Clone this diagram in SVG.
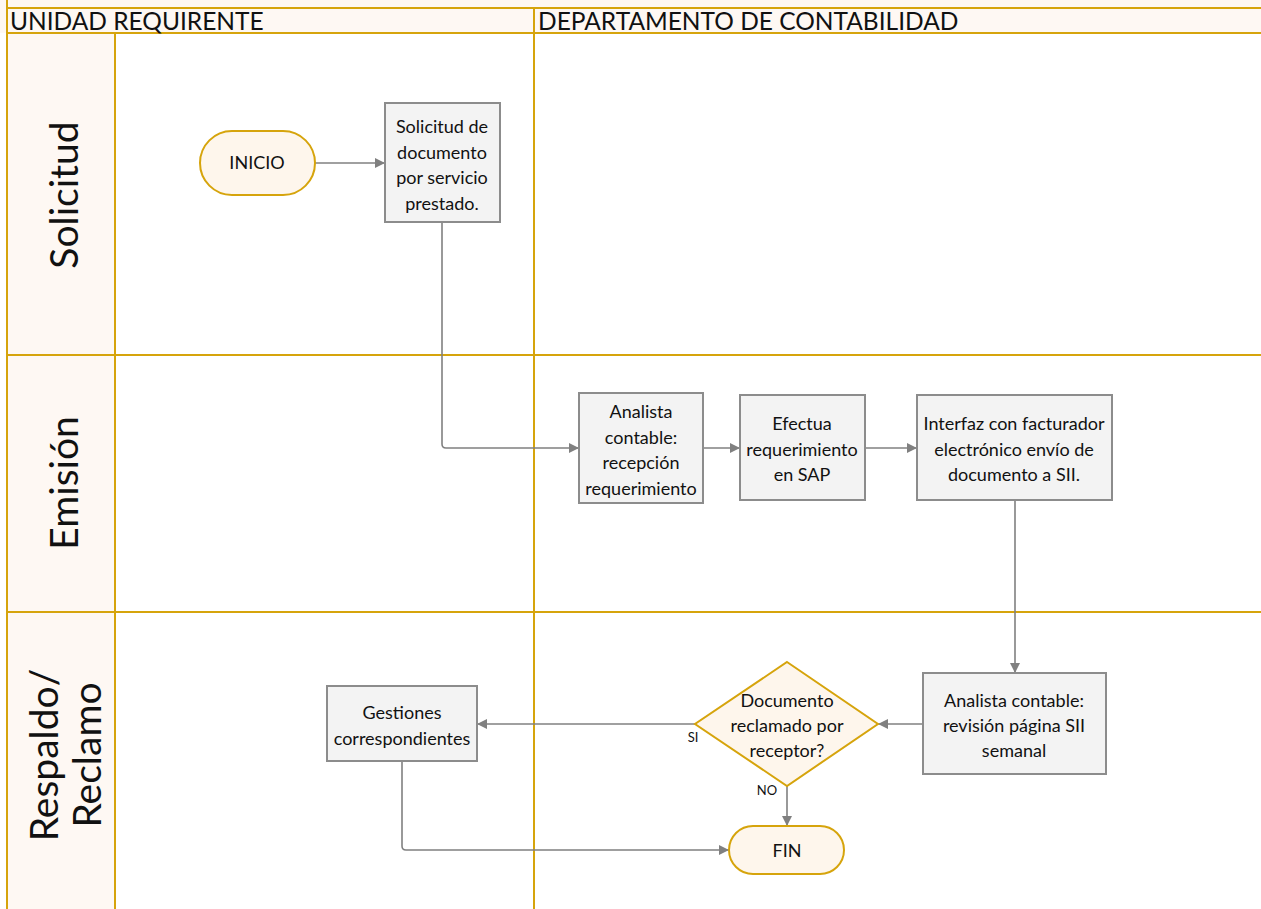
<svg xmlns="http://www.w3.org/2000/svg" width="1261" height="909" viewBox="0 0 1261 909">
  <style>
    text { font-family: Lato, "Open Sans", "Liberation Sans", sans-serif; fill: #111; }
    .grid { stroke: #D6A40C; stroke-width: 2; fill: none; }
    .cell { fill: #FEF8F3; }
    .hdr { font-size: 24.5px; }
    .lane { font-size: 39px; text-anchor: middle; }
    .box { fill: #F3F3F3; stroke: #8C8C8C; stroke-width: 2; }
    .term { fill: #FEF6EC; stroke: #D6A40C; stroke-width: 2; }
    .lbl { font-size: 18px; text-anchor: middle; }
    .small { font-size: 13px; text-anchor: middle; }
    .conn { stroke: #808080; stroke-width: 1.6; fill: none; marker-end: url(#arrow); }
  </style>
  <defs>
    <marker id="arrow" viewBox="0 0 10 10" refX="10" refY="5" markerWidth="10" markerHeight="10" markerUnits="userSpaceOnUse" orient="auto">
      <path d="M0,0 L10,5 L0,10 z" fill="#808080"/>
    </marker>
  </defs>

  <rect width="1261" height="909" fill="#FFFFFF"/>

  <!-- swimlane frame -->
  <g id="lanes">
    <rect class="cell" x="0" y="0" width="1261" height="33"/>
    <rect class="cell" x="7" y="33" width="108" height="876"/>
    <line class="grid" x1="7" y1="0" x2="7" y2="909"/>
    <line class="grid" x1="7" y1="8" x2="1261" y2="8"/>
    <line class="grid" x1="7" y1="33" x2="1261" y2="33"/>
    <line class="grid" x1="115" y1="33" x2="115" y2="909"/>
    <line class="grid" x1="534" y1="8" x2="534" y2="909"/>
    <line class="grid" x1="7" y1="355" x2="1261" y2="355"/>
    <line class="grid" x1="7" y1="612" x2="1261" y2="612"/>
    <text class="hdr" x="10" y="30">UNIDAD REQUIRENTE</text>
    <text class="hdr" x="538" y="30">DEPARTAMENTO DE CONTABILIDAD</text>
    <text class="lane" transform="translate(78,195) rotate(-90)">Solicitud</text>
    <text class="lane" transform="translate(78,483) rotate(-90)">Emisión</text>
    <text class="lane" transform="translate(58,755) rotate(-90)">Respaldo/</text>
    <text class="lane" transform="translate(101,755) rotate(-90)">Reclamo</text>
  </g>

  <!-- connectors -->
  <g id="connectors">
    <path class="conn" d="M315,163 H385"/>
    <path class="conn" d="M442,222 V444 Q442,448 446,448 H579"/>
    <path class="conn" d="M703,448 H740"/>
    <path class="conn" d="M865,448 H917"/>
    <path class="conn" d="M1015,500 V673"/>
    <path class="conn" d="M923,724 H878"/>
    <path class="conn" d="M695,724 H477"/>
    <path class="conn" d="M787,786 V826"/>
    <path class="conn" d="M402,761 V846 Q402,850 406,850 H729"/>
    <text class="small" x="693" y="742">SI</text>
    <text class="small" x="767" y="795">NO</text>
  </g>

  <!-- nodes -->
  <g id="inicio">
    <rect class="term" x="200" y="131" width="115" height="64" rx="32"/>
    <text class="lbl" x="257" y="169">INICIO</text>
  </g>
  <g id="solicitud">
    <rect class="box" x="385" y="103" width="115" height="119"/>
    <text class="lbl" x="442" y="133">Solicitud de</text>
    <text class="lbl" x="442" y="159">documento</text>
    <text class="lbl" x="442" y="184">por servicio</text>
    <text class="lbl" x="442" y="210">prestado.</text>
  </g>
  <g id="recepcion">
    <rect class="box" x="579" y="393" width="124" height="110"/>
    <text class="lbl" x="641" y="418">Analista</text>
    <text class="lbl" x="641" y="444">contable:</text>
    <text class="lbl" x="641" y="469">recepción</text>
    <text class="lbl" x="641" y="495">requerimiento</text>
  </g>
  <g id="efectua">
    <rect class="box" x="740" y="395" width="125" height="105"/>
    <text class="lbl" x="802" y="430">Efectua</text>
    <text class="lbl" x="802" y="456">requerimiento</text>
    <text class="lbl" x="802" y="481">en SAP</text>
  </g>
  <g id="interfaz">
    <rect class="box" x="917" y="395" width="195" height="105"/>
    <text class="lbl" x="1014" y="430">Interfaz con facturador</text>
    <text class="lbl" x="1014" y="456">electrónico envío de</text>
    <text class="lbl" x="1014" y="481">documento a SII.</text>
  </g>
  <g id="revision">
    <rect class="box" x="923" y="673" width="183" height="101"/>
    <text class="lbl" x="1014" y="707">Analista contable:</text>
    <text class="lbl" x="1014" y="732">revisión página SII</text>
    <text class="lbl" x="1014" y="757">semanal</text>
  </g>
  <g id="decision">
    <polygon class="term" points="787,662 878,724 787,786 695,724"/>
    <text class="lbl" x="787" y="707">Documento</text>
    <text class="lbl" x="787" y="732">reclamado por</text>
    <text class="lbl" x="787" y="757">receptor?</text>
  </g>
  <g id="gestiones">
    <rect class="box" x="327" y="686" width="150" height="75"/>
    <text class="lbl" x="402" y="719">Gestiones</text>
    <text class="lbl" x="402" y="745">correspondientes</text>
  </g>
  <g id="fin">
    <rect class="term" x="729" y="826" width="115" height="48" rx="24"/>
    <text class="lbl" x="787" y="857">FIN</text>
  </g>
</svg>
